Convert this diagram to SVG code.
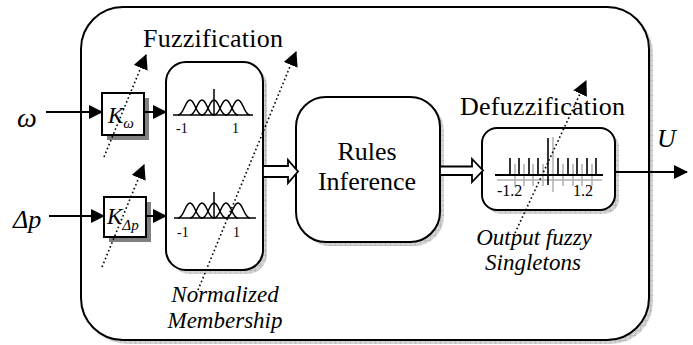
<svg xmlns="http://www.w3.org/2000/svg" width="693" height="345" viewBox="0 0 693 345">
  <defs>
    <pattern id="grid" width="5" height="5" patternUnits="userSpaceOnUse">
      <rect width="5" height="5" fill="#d4d4d4"/>
      <path d="M0 0.3H5M0.3 0V5" stroke="#a8a8a8" stroke-width="0.6"/>
    </pattern>
    <marker id="ah" viewBox="0 0 14 14" markerWidth="14" markerHeight="14" refX="13" refY="7" orient="auto" markerUnits="userSpaceOnUse">
      <path d="M0 0L14 7L0 14z" fill="#000" stroke="none"/>
    </marker>
    <marker id="ahd" viewBox="0 0 14 14" markerWidth="15" markerHeight="15" refX="13" refY="7" orient="auto" markerUnits="userSpaceOnUse">
      <path d="M0 0L14 7L0 14z" fill="#000" stroke="none"/>
    </marker>
  </defs>
  <style>
    .box { fill: #fff; stroke: #000; stroke-width: 2; }
    .shadow { fill: url(#grid); stroke: none; }
    .wire { fill: none; stroke: #000; stroke-width: 2; }
    .dot { fill: none; stroke: #000; stroke-width: 1.6; stroke-dasharray: 1.6 2.6; }
    .hollow { fill: #fff; stroke: #000; stroke-width: 1.8; stroke-linejoin: miter; }
    .mf { fill: none; stroke: #000; stroke-width: 1.5; }
    .serif { font-family: "Liberation Serif", "Times New Roman", serif; fill: #000; }
    .big { font-size: 26px; }
    .ital { font-style: italic; }
    .lab { font-size: 23px; font-style: italic; }
    .tick { font-size: 14px; }
  </style>

  <!-- outer controller frame -->
  <g id="frame">
    <rect class="shadow" x="85" y="11" width="568" height="333" rx="42"/>
    <rect class="box" x="81" y="7" width="568" height="333" rx="42"/>
  </g>

  <!-- gain K_omega -->
  <g id="gain-omega">
    <rect x="107" y="98" width="42" height="42" fill="#808080"/>
    <rect class="box" x="102" y="93" width="42" height="42"/>
    <text class="serif ital" x="108" y="123" font-size="23">K<tspan font-size="15" dy="5">ω</tspan></text>
  </g>

  <!-- gain K_Delta p -->
  <g id="gain-dp">
    <rect x="109" y="202" width="42" height="40" fill="#808080"/>
    <rect class="box" x="104" y="197" width="42" height="40"/>
    <text class="serif ital" x="107" y="224" font-size="23">K<tspan font-size="15" dy="6">Δp</tspan></text>
  </g>

  <!-- fuzzification: normalized membership functions -->
  <g id="fuzzifier">
    <rect class="shadow" x="170" y="66" width="97" height="208" rx="20"/>
    <rect class="box" x="166" y="62" width="97" height="208" rx="20"/>
    <g class="mf">
      <path d="M173 115H253"/>
      <path d="M214 89V115"/>
      <path d="M178 115C184 115 185 100 190 100C195 100 196 115 202 115"/>
      <path d="M190 115C196 115 197 100 202 100C207 100 208 115 214 115"/>
      <path d="M202 115C208 115 209 100 214 100C219 100 220 115 226 115"/>
      <path d="M214 115C220 115 221 100 226 100C231 100 232 115 238 115"/>
      <path d="M226 115C232 115 233 100 238 100C243 100 244 115 250 115"/>
    </g>
    <text class="serif tick" x="176" y="133">-1</text>
    <text class="serif tick" x="232" y="133">1</text>
    <g class="mf">
      <path d="M174 218H256"/>
      <path d="M214 192V218"/>
      <path d="M178 218C184 218 185 203 190 203C195 203 196 218 202 218"/>
      <path d="M190 218C196 218 197 203 202 203C207 203 208 218 214 218"/>
      <path d="M202 218C208 218 209 203 214 203C219 203 220 218 226 218"/>
      <path d="M214 218C220 218 221 203 226 203C231 203 232 218 238 218"/>
      <path d="M226 218C232 218 233 203 238 203C243 203 244 218 250 218"/>
    </g>
    <text class="serif tick" x="177" y="237">-1</text>
    <text class="serif tick" x="233" y="237">1</text>
  </g>

  <!-- rule base -->
  <g id="rules">
    <rect class="shadow" x="300" y="101" width="144" height="145" rx="30"/>
    <rect class="box" x="296" y="97" width="144" height="145" rx="30"/>
    <text class="serif big" x="367" y="160" text-anchor="middle">Rules</text>
    <text class="serif big" x="367" y="190" text-anchor="middle">Inference</text>
  </g>

  <!-- defuzzification: output singletons -->
  <g id="defuzzifier">
    <rect class="shadow" x="486" y="132" width="133" height="82" rx="15"/>
    <rect class="box" x="482" y="128" width="133" height="82" rx="15"/>
    <g stroke="#b0b0b0" stroke-width="1.5">
      <path d="M497 180H602"/>
      <path d="M515 164V186M524 164V186M533 164V186M543 164V186M563 164V186M573 164V186M582 164V186M592 164V186"/>
      <path d="M553 137V192"/>
    </g>
    <g stroke="#000" stroke-width="1.6">
      <path d="M495 175H603" stroke-width="2"/>
      <path d="M510 158V175M519 158V175M529 158V175M538 158V175M558 158V175M568 158V175M577 158V175M587 158V175M596 158V175"/>
      <path d="M548 138V185"/>
    </g>
    <text class="serif" x="497" y="196" font-size="16">-1.2</text>
    <text class="serif" x="573" y="196" font-size="16">1.2</text>
  </g>

  <!-- stage titles and annotations -->
  <g id="titles">
    <text class="serif big" x="143" y="47" textLength="140">Fuzzification</text>
    <text class="serif big" x="460" y="115" textLength="165">Defuzzification</text>
    <text class="serif lab" x="225" y="302" text-anchor="middle">Normalized</text>
    <text class="serif lab" x="225" y="328" text-anchor="middle">Membership</text>
    <text class="serif lab" x="534" y="245" text-anchor="middle">Output fuzzy</text>
    <text class="serif lab" x="533" y="270" text-anchor="middle">Singletons</text>
  </g>

  <!-- signals -->
  <g id="io">
    <text class="serif ital" x="17" y="127" font-size="28">ω</text>
    <text class="serif ital" x="13" y="228" font-size="26">Δp</text>
    <text class="serif ital" x="657" y="147" font-size="26">U</text>
  </g>

  <!-- connectors -->
  <g id="connectors">
    <path class="wire" d="M46 112H102" marker-end="url(#ah)"/>
    <path class="wire" d="M144 112H166" marker-end="url(#ah)"/>
    <path class="wire" d="M49 216H104" marker-end="url(#ah)"/>
    <path class="wire" d="M146 216H166" marker-end="url(#ah)"/>
    <path class="wire" d="M615 172H687" marker-end="url(#ah)"/>
    <path class="hollow" d="M263 166H288V160L298 171.5L288 183V177H263Z"/>
    <path class="hollow" d="M440 166.5H472V159L483 170.5L472 182V175H440Z"/>
    <path class="dot" d="M104 157L146 55" marker-end="url(#ahd)"/>
    <path class="dot" d="M102 267L144 165" marker-end="url(#ahd)"/>
    <path class="dot" d="M198 290L296 52" marker-end="url(#ahd)"/>
    <path class="dot" d="M515 233L586 81" marker-end="url(#ahd)"/>
  </g>
</svg>
